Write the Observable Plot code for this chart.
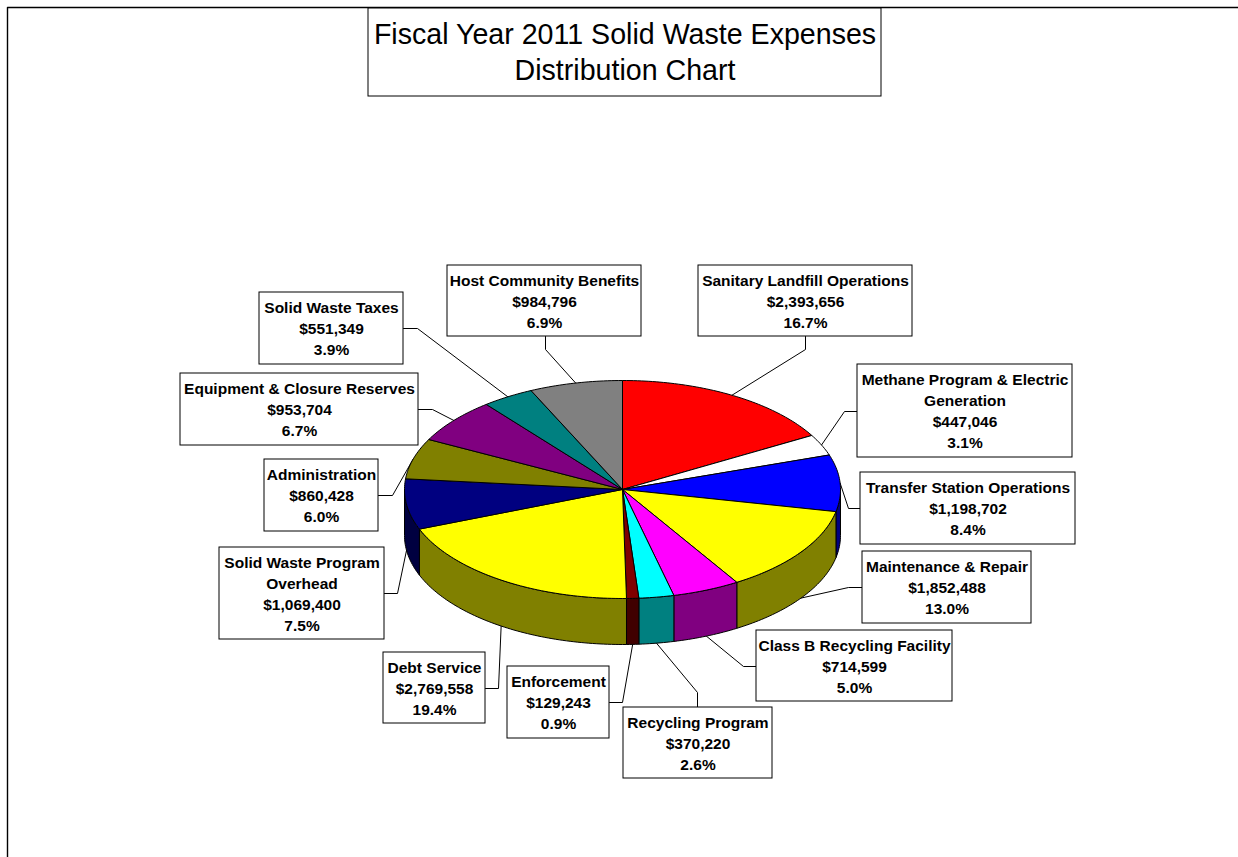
<!DOCTYPE html>
<html>
<head>
<meta charset="utf-8">
<style>html,body{margin:0;padding:0;background:#fff;overflow:hidden}svg{display:block}</style>
<script src="https://cdn.jsdelivr.net/npm/d3@7"></script>
<script src="https://cdn.jsdelivr.net/npm/@observablehq/plot@0.6"></script>
</head>
<body>
<script>
// ---- Data ----
const names = ["Sanitary Landfill Operations","Methane Program & Electric\nGeneration","Transfer Station Operations","Maintenance & Repair","Class B Recycling Facility","Recycling Program","Enforcement","Debt Service","Solid Waste Program\nOverhead","Administration","Equipment & Closure Reserves","Solid Waste Taxes","Host Community Benefits"];
const amounts = [2393656,447046,1198702,1852488,714599,370220,129243,2769558,1069400,860428,953704,551349,984796];
const percents = ["16.7%","3.1%","8.4%","13.0%","5.0%","2.6%","0.9%","19.4%","7.5%","6.0%","6.7%","3.9%","6.9%"];
const topColors = ["#ff0000","#ffffff","#0000ff","#ffff00","#ff00ff","#00ffff","#800000","#ffff00","#000080","#808000","#800080","#008080","#808080"];
const sideColors = ["#800000","#808080","#000080","#808000","#800080","#008080","#400000","#808000","#000040","#404000","#400040","#004040","#404040"];
const titleLines = "Fiscal Year 2011 Solid Waste Expenses\nDistribution Chart";

// ---- Layout (label boxes: x1,y1,x2,y2; leader elbow; box attachment) ----
const boxes = [
  [698,265,912,336],[857,364,1072,457],[860,472,1075,544],[862,551,1031,623],
  [756,630,952,701],[623,707,772,778],[507,666,609,738],[383,652,485,723],
  [219,547,384,639],[264,459,378,531],[180,373,418,445],[259,292,403,364],[447,265,641,336]
];
const elbows = [[805,349],[844,411],[848,508],[848,587],[743,666],[697,692],[622,702],[498,688],[397,593],[392,495],[432,409],[417,328],[545,349]];
const attach = [[805,336],[857,411],[860,508],[862,587],[756,666],[697,707],[609,702],[485,688],[384,593],[378,495],[418,409],[403,328],[545,336]];
const pie = {cx:622, cy:489, rx:218, ry:109, depth:46};

// ---- Geometry derived from the values ----
const total = d3.sum(amounts);
const px = t => pie.cx + pie.rx * Math.sin(t * Math.PI / 180);
const py = t => pie.cy - pie.ry * Math.cos(t * Math.PI / 180);
let cum = 0;
const slices = amounts.map((v,i) => {
  const a0 = cum / total * 360; cum += v; const a1 = cum / total * 360;
  return {i, a0, a1, mid:(a0+a1)/2};
});
function arc(a0,a1){
  const n = Math.max(2, Math.ceil((a1-a0)));
  return d3.range(n+1).map(k => a0 + (a1-a0)*k/n);
}
const topPts = [], sidePts = [], leaderPts = [], frame = [{x:1238,y:7},{x:7,y:7},{x:7,y:857}];
slices.forEach(s => {
  const id = "t"+s.i, fill = topColors[s.i];
  topPts.push({id,fill,x:pie.cx,y:pie.cy});
  arc(s.a0,s.a1).forEach(t => topPts.push({id,fill,x:px(t),y:py(t)}));
  topPts.push({id,fill,x:pie.cx,y:pie.cy});
  const f0 = Math.max(s.a0,90), f1 = Math.min(s.a1,270);
  if (f1 > f0) {
    const sid = "s"+s.i, sf = sideColors[s.i], ts = arc(f0,f1);
    ts.forEach(t => sidePts.push({id:sid,fill:sf,x:px(t),y:py(t)}));
    ts.slice().reverse().forEach(t => sidePts.push({id:sid,fill:sf,x:px(t),y:py(t)+pie.depth}));
    sidePts.push({id:sid,fill:sf,x:px(f0),y:py(f0)});
  }
  const front = s.mid > 90 && s.mid < 270;
  leaderPts.push({id:s.i,x:px(s.mid),y:py(s.mid)+(front?pie.depth:0)});
  leaderPts.push({id:s.i,x:elbows[s.i][0],y:elbows[s.i][1]});
  leaderPts.push({id:s.i,x:attach[s.i][0],y:attach[s.i][1]});
});
const labels = names.map((n,i) => ({
  text:`${n}\n$${d3.format(",")(amounts[i])}\n${percents[i]}`,
  x1:boxes[i][0], y1:boxes[i][1], x2:boxes[i][2], y2:boxes[i][3]
}));
const titleBox = [{x1:368,y1:8,x2:881,y2:96,text:titleLines}];

const chart = Plot.plot({
  width:1238, height:857, margin:0,
  x:{domain:[0,1238], range:[0,1238], axis:null},
  y:{domain:[0,857], range:[0,857], axis:null},
  color:{type:"identity"},
  style:{background:"#fff", fontFamily:"'Liberation Sans', Arial, sans-serif", overflow:"visible"},
  marks:[
    Plot.line(frame,{x:"x",y:"y",stroke:"#000",strokeWidth:1.4}),
    Plot.line(leaderPts,{x:"x",y:"y",z:"id",stroke:"#000",strokeWidth:1}),
    Plot.line(sidePts,{x:"x",y:"y",z:"id",fill:"fill",stroke:"#000",strokeWidth:1}),
    Plot.line(topPts,{x:"x",y:"y",z:"id",fill:"fill",stroke:"#000",strokeWidth:1}),
    Plot.rect(labels,{x1:"x1",x2:"x2",y1:"y1",y2:"y2",fill:"#fff",stroke:"#000",strokeWidth:1}),
    Plot.text(labels,{x:d=>(d.x1+d.x2)/2,y:d=>(d.y1+d.y2)/2-1,text:"text",fontSize:15.5,fontWeight:"bold",lineHeight:1.355,fill:"#000",textAnchor:"middle"}),
    Plot.rect(titleBox,{x1:"x1",x2:"x2",y1:"y1",y2:"y2",fill:"#fff",stroke:"#000",strokeWidth:1}),
    Plot.text(titleBox,{x:d=>(d.x1+d.x2)/2,y:d=>(d.y1+d.y2)/2-2,text:"text",fontSize:28.6,lineHeight:1.26,fill:"#000",textAnchor:"middle"})
  ]
});
document.body.appendChild(chart);
</script>
</body>
</html>
